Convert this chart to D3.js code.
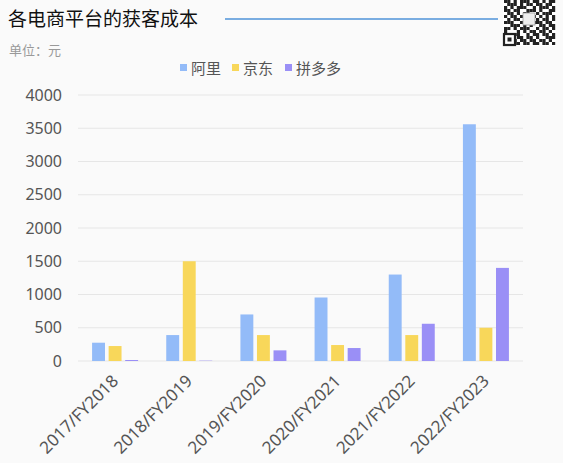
<!DOCTYPE html>
<html>
<head>
  <meta charset="UTF-8">
  <style>
    body { margin: 0; background: #fafafa; }
    text { font-family: "Noto Sans CJK SC", "Noto Sans", sans-serif; }
  </style>
</head>
<body>
<script src="https://d3js.org/d3.v7.min.js"></script>
<div id="chart"></div>
<script>
// data
var years = ["2017/FY2018", "2018/FY2019", "2019/FY2020", "2020/FY2021", "2021/FY2022", "2022/FY2023"];
var seriesNames = ["阿里", "京东", "拼多多"];
var ali = [275, 390, 700, 955, 1300, 3560];
var jd = [225, 1500, 390, 240, 390, 500];
var pdd = [15, 5, 160, 195, 560, 1400];
var yTicks = [0, 500, 1000, 1500, 2000, 2500, 3000, 3500, 4000];
var colors = ["#93bbf8", "#f8d75a", "#9a8ff6"];

var W = 563, H = 463;
var svg = d3.select("#chart").append("svg")
  .attr("width", W).attr("height", H);

svg.append("rect").attr("width", W).attr("height", H).attr("fill", "#fafafa");

// title + rule line
svg.append("text")
  .attr("x", 8).attr("y", 26)
  .text("各电商平台的获客成本")
  .style("font-size", "19px")
  .attr("fill", "#111");
svg.append("line")
  .attr("x1", 225).attr("x2", 498)
  .attr("y1", 19).attr("y2", 19)
  .style("stroke", "#4f93d8").style("stroke-width", 1.4);

svg.append("text")
  .attr("x", 9).attr("y", 55)
  .text("单位：元")
  .style("font-size", "13px")
  .attr("fill", "#999");

// qr-like corner block
var qr = svg.append("g").attr("transform", "translate(503,0)");
qr.append("rect").attr("width", 53).attr("height", 46).attr("fill", "#fff");
var qrRows = [
  "1101011101101011",
  "0111010110110110",
  "1010111001011101",
  "1101100111010011",
  "0110101100101110",
  "1011010011010101",
  "0101101110101101",
  "1110010101110110",
  "0011101010011011",
  "1101011100101101",
  "1000101011011010",
  "1011100101101101",
  "1010110110100111",
  "1001011011011010",
  "1111101101101101"
];
qrRows.forEach(function(r, i) {
  r.split("").forEach(function(c, j) {
    if (c === "1") qr.append("rect")
      .attr("x", 1 + j * 3.2).attr("y", i * 3.0)
      .attr("width", 3.2).attr("height", 3.0)
      .attr("fill", "#222");
  });
});
qr.append("rect").attr("x", 1).attr("y", 34).attr("width", 11).attr("height", 11)
  .attr("fill", "#fff").attr("stroke", "#222").attr("stroke-width", 2.2);
qr.append("rect").attr("x", 4.5).attr("y", 37.5).attr("width", 4).attr("height", 4).attr("fill", "#222");
qr.append("rect").attr("x", 20).attr("y", 13).attr("width", 12).attr("height", 12)
  .attr("fill", "#eee").attr("stroke", "#999").attr("stroke-width", 0.8);

// legend
var legendX = [180, 232, 285];
seriesNames.forEach(function(name, i) {
  svg.append("rect")
    .attr("x", legendX[i]).attr("y", 64)
    .attr("width", 7).attr("height", 7)
    .attr("fill", colors[i]);
  svg.append("text")
    .attr("x", legendX[i] + 11).attr("y", 73.5)
    .text(name)
    .style("font-size", "15px")
    .attr("fill", "#555");
});

// scales
var pLeft = 78, pRight = 523, pTop = 95, pBottom = 361;
var x0 = d3.scaleBand().domain(years).range([pLeft, pRight]);
var x1 = d3.scaleBand().domain(seriesNames)
  .range([x0.bandwidth() / 2 - 23, x0.bandwidth() / 2 + 23])
  .paddingInner(0.22);
var y = d3.scaleLinear().domain([0, 4000]).range([pBottom, pTop]);

// gridlines
svg.append("g").selectAll("line")
  .data(yTicks).enter().append("line")
  .attr("x1", pLeft).attr("x2", pRight)
  .attr("y1", function(d) { return y(d); })
  .attr("y2", function(d) { return y(d); })
  .style("stroke", "#e6e6e6");

// y axis
var yAxis = svg.append("g")
  .attr("transform", "translate(62,0)")
  .call(d3.axisLeft(y).tickValues(yTicks).tickFormat(d3.format("d")).tickSize(0).tickPadding(0));
yAxis.select(".domain").remove();
yAxis.selectAll("text")
  .style("font-size", "16px")
  .attr("fill", "#555")
  .style("font-family", "'Noto Sans', sans-serif");

// bars
var table = years.map(function(yr, i) {
  return { year: yr, vals: [ali[i], jd[i], pdd[i]] };
});
var groups = svg.append("g").selectAll("g")
  .data(table).enter().append("g")
  .attr("transform", function(d) { return "translate(" + x0(d.year) + ",0)"; });
groups.selectAll("rect")
  .data(function(d) { return d.vals.map(function(v, k) { return { k: k, v: v }; }); })
  .enter().append("rect")
  .attr("x", function(d) { return x1(seriesNames[d.k]); })
  .attr("width", x1.bandwidth())
  .attr("y", function(d) { return y(d.v); })
  .attr("height", function(d) { return y(0) - y(d.v); })
  .attr("fill", function(d) { return colors[d.k]; });

// x axis labels
var xAxis = svg.append("g")
  .attr("transform", "translate(0," + (pBottom + 17) + ")")
  .call(d3.axisBottom(x0).tickSize(0).tickPadding(0));
xAxis.select(".domain").remove();
xAxis.selectAll("text")
  .style("font-size", "17px")
  .attr("fill", "#555")
  .style("font-family", "'Noto Sans', sans-serif")
  .attr("text-anchor", "end")
  .attr("dy", "0.35em")
  .attr("y", 0)
  .attr("transform", "translate(0,0) rotate(-45)");
</script>
</body>
</html>
